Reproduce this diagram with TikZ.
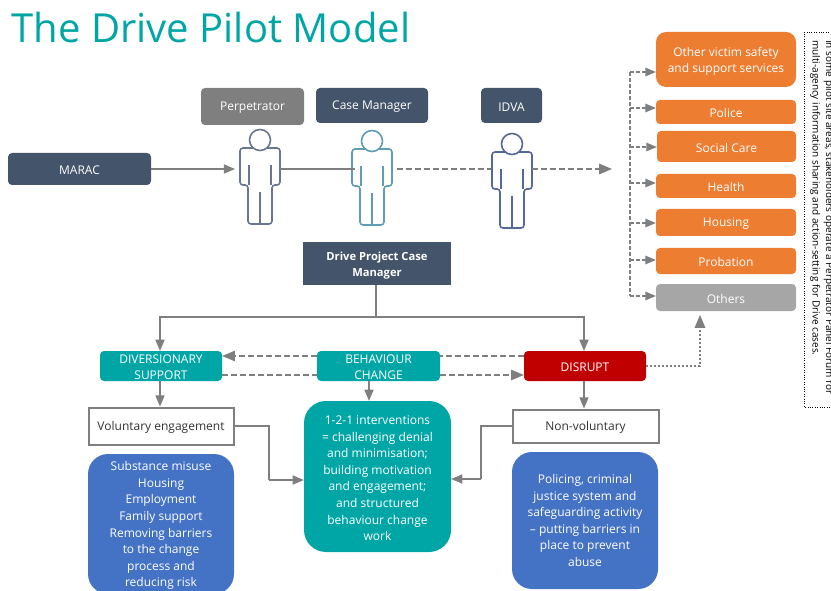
\documentclass[tikz,border=0pt]{standalone}
\usepackage{fontspec}
\setmainfont{Open Sans}
\usetikzlibrary{arrows}
\definecolor{slatebox}{HTML}{44546A}
\definecolor{greybox}{HTML}{7F7F7F}
\definecolor{orangebox}{HTML}{ED7D31}
\definecolor{othersbox}{HTML}{A6A6A6}
\definecolor{tealbox}{HTML}{00A6A6}
\definecolor{redbox}{HTML}{C00000}
\definecolor{bluebox}{HTML}{4472C4}
\definecolor{linegrey}{HTML}{7F7F7F}
\definecolor{persondark}{HTML}{6A7590}
\definecolor{personteal}{HTML}{5F9DB5}
\definecolor{personblue}{HTML}{54699A}
\newcommand{\firstline}{\rule{0pt}{12.5pt}}
\tikzset{
  pics/person/.style={code={
    \draw[#1,line width=1.6pt,fill=white,rounded corners=3pt] (-20,-38) -- (20,-38) -- (20,-1) -- (12,-1) -- (12,38) -- (-12,38) -- (-12,-1) -- (-20,-1) -- cycle;
    \draw[#1,line width=1.2pt] (11,-21) -- (11,-1) (-11,-21) -- (-11,-1) (0,6) -- (0,38);
    \draw[#1,line width=1.6pt,fill=white] (0,-46) circle (10.5);
  }},
}
\begin{document}
\begin{tikzpicture}[x=1pt,y=-1pt,>=triangle 45]
	\tikzstyle{every node} = [inner sep=0pt,align=center,text=white,font=\fontsize{12}{16.6}\selectfont];
	\tikzstyle{lowered} = [execute at begin node={\rule{0pt}{11.5pt}}];
	\tikzstyle{box} = [rectangle,rounded corners=4pt,lowered];
	\tikzstyle{solidline} = [draw=linegrey,line width=1.6pt];
	\tikzstyle{dashline} = [draw=linegrey,line width=2pt,dash pattern=on 6pt off 3pt];
	\tikzstyle{busline} = [draw=linegrey,line width=1.4pt,dash pattern=on 4pt off 2pt];
	\tikzstyle{outlinebox} = [rectangle,draw=linegrey,fill=white,line width=2pt,text=black!80,lowered];
	\useasboundingbox (0,0) rectangle (831,591);

	\node (title) at (211,28) {\fontsize{40}{48}\selectfont\textcolor{tealbox}{The Drive Pilot Model}};

	\node[box,fill=slatebox,minimum width=143,minimum height=32] (marac) at (79.5,169) {MARAC};
	\node[box,fill=greybox,minimum width=103,minimum height=37] (perplabel) at (252.5,106.5) {Perpetrator};
	\node[box,fill=slatebox,minimum width=112,minimum height=35] (caselabel) at (372,105.5) {Case Manager};
	\node[box,fill=slatebox,minimum width=61,minimum height=35] (idvalabel) at (511.5,105.5) {IDVA};

	\node[minimum width=40,minimum height=76] (perpfig) at (260,186) {};
	\node[minimum width=40,minimum height=76] (casefig) at (372,187) {};
	\node[minimum width=40,minimum height=76] (idvafig) at (512,190) {};
	\pic at (perpfig) {person=persondark};
	\pic at (casefig) {person=personteal};
	\pic at (idvafig) {person=personblue};

	\coordinate (perpin) at (235,169);
	\coordinate (casein) at (355,169);
	\coordinate (caseout) at (397,169);
	\coordinate (idvain) at (491,169);
	\coordinate (idvaout) at (532,169);
	\coordinate (panelin) at (612,169);
	\draw[->,solidline] (marac.east |- perpin) -- (perpin);
	\draw[solidline] (perpfig.east |- perpin) -- (casein);
	\draw[dashline] (caseout) -- (idvain);
	\draw[->,dashline] (idvaout) -- (panelin);

	\node[box,rounded corners=10pt,fill=orangebox,minimum width=140,minimum height=55] (victim) at (726,59.5) {\firstline Other victim safety\\and support services};
	\node[box,fill=orangebox,minimum width=140,minimum height=24] (police) at (726,112) {Police};
	\node[box,fill=orangebox,minimum width=139,minimum height=31] (social) at (726.5,146.5) {Social Care};
	\node[box,fill=orangebox,minimum width=140,minimum height=24] (health) at (726,186) {Health};
	\node[box,fill=orangebox,minimum width=140,minimum height=27] (housing) at (726,222.5) {Housing};
	\node[box,fill=orangebox,minimum width=140,minimum height=26] (probation) at (726,261) {Probation};
	\node[box,fill=othersbox,minimum width=140,minimum height=27] (others) at (726,297.5) {Others};

	\coordinate (bustop) at (630,72);
	\coordinate (buspolice) at (630,108);
	\coordinate (bussocial) at (630,147);
	\coordinate (bushealth) at (630,183);
	\coordinate (bushousing) at (630,223);
	\coordinate (busprobation) at (630,260);
	\coordinate (busothers) at (630,296);
	\draw[busline] (bustop) -- (busothers);
	\draw[->,busline] (bustop) -- (victim.west |- bustop);
	\draw[->,busline] (buspolice) -- (police.west |- buspolice);
	\draw[->,busline] (bussocial) -- (social.west |- bussocial);
	\draw[->,busline] (bushealth) -- (health.west |- bushealth);
	\draw[->,busline] (bushousing) -- (housing.west |- bushousing);
	\draw[->,busline] (busprobation) -- (probation.west |- busprobation);
	\draw[->,busline] (busothers) -- (others.west |- busothers);

	\node[rectangle,draw=black,dotted,minimum width=375,minimum height=36,rotate=-90] (forum) at (822,219.5) {};
	\node[rotate=-90,anchor=north west,align=left,text=black,font=\fontsize{10}{13.6}\selectfont] (forumtext) at (834,40) {In some pilot site areas, stakeholders operate a Perpetrator Panel Forum for\\multi-agency information sharing and action-setting for Drive cases.};

	\node[rectangle,fill=slatebox,minimum width=148,minimum height=43,font=\fontsize{11.2}{16.6}\selectfont\bfseries] (project) at (377,263.5) {\firstline Drive Project Case\\Manager};

	\node[box,fill=tealbox,minimum width=122,minimum height=30] (diversion) at (161,366) {\rule{0pt}{11pt}DIVERSIONARY\\SUPPORT};
	\node[box,fill=tealbox,minimum width=123,minimum height=30] (behaviour) at (378.5,366) {\rule{0pt}{11pt}BEHAVIOUR\\CHANGE};
	\node[box,fill=redbox,minimum width=122,minimum height=30] (disrupt) at (585,366) {DISRUPT};

	\node[outlinebox,minimum width=145,minimum height=37] (voluntary) at (161,426) {Voluntary engagement};
	\node[outlinebox,minimum width=146,minimum height=33] (nonvol) at (585.5,426) {Non-voluntary};

	\node[box,rounded corners=22pt,fill=tealbox,minimum width=147,minimum height=151] (interventions) at (377.5,476.5) {\firstline 1-2-1 interventions\\= challenging denial\\and minimisation;\\building motivation\\and engagement;\\and structured\\behaviour change\\work};
	\node[box,rounded corners=20pt,fill=bluebox,minimum width=146,minimum height=140] (support) at (161,524) {\firstline Substance misuse\\Housing\\Employment\\Family support\\Removing barriers\\to the change\\process and\\reducing risk};
	\node[box,rounded corners=20pt,fill=bluebox,minimum width=146,minimum height=137] (policing) at (585,520.5) {Policing, criminal\\justice system and\\safeguarding activity\\-- putting barriers in\\place to prevent\\abuse};

	\coordinate (split) at (376,317);
	\coordinate (divertop) at (160,317);
	\coordinate (disrupttop) at (584,317);
	\draw[solidline] (project.south -| split) -- (split);
	\draw[->,solidline] (split) -- (divertop) -- (divertop |- diversion.north);
	\draw[->,solidline] (split) -- (disrupttop) -- (disrupttop |- disrupt.north);

	\coordinate (upper) at (0,356);
	\coordinate (lower) at (0,375);
	\draw[->,dashline] (behaviour.west |- upper) -- (diversion.east |- upper);
	\draw[dashline] (disrupt.west |- upper) -- (behaviour.east |- upper);
	\draw[dashline] (diversion.east |- lower) -- (behaviour.west |- lower);
	\draw[->,dashline] (behaviour.east |- lower) -- (disrupt.west |- lower);

	\coordinate (othersin) at (700,315);
	\draw[->,draw=linegrey,line width=2pt,dotted] (disrupt.east) -| (othersin);

	\coordinate (behavdown) at (369,381);
	\draw[->,solidline] (divertop |- diversion.south) -- (divertop |- voluntary.north);
	\draw[->,solidline] (behavdown) -- (behavdown |- interventions.north);
	\draw[->,solidline] (disrupttop |- disrupt.south) -- (disrupttop |- nonvol.north);

	\coordinate (volbend) at (269,480);
	\coordinate (nonbend) at (481,479);
	\draw[solidline] (voluntary.east) -| (volbend);
	\draw[->,solidline] (volbend) -- (interventions.west |- volbend);
	\draw[solidline] (nonvol.west) -| (nonbend);
	\draw[->,solidline] (nonbend) -- (interventions.east |- nonbend);
\end{tikzpicture}
\end{document}
